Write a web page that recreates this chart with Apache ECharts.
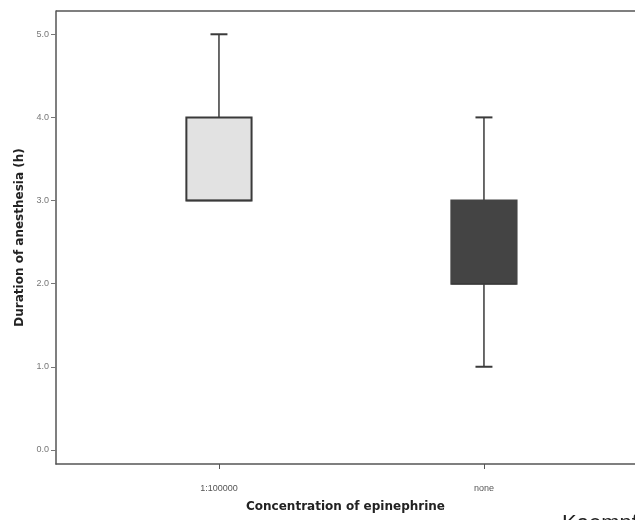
<!DOCTYPE html>
<html>
<head>
<meta charset="utf-8">
<script src="https://cdn.jsdelivr.net/npm/echarts@6/dist/echarts.min.js"></script>
<style>html,body{margin:0;padding:0;background:#fff;}#c{width:635px;height:520px;}</style>
</head>
<body>
<div id="c"></div>
<script>
const categories = ["1:100000", "none"];
// [min, Q1, median, Q3, max]
const boxValues = [
  [3.0, 3.0, 3.0, 4.0, 5.0],
  [1.0, 2.0, 2.0, 3.0, 4.0]
];
const boxColors = ["#e2e2e2", "#444444"];
const yTicks = [0, 1, 2, 3, 4, 5];

const chart = echarts.init(document.getElementById('c'));
const data = boxValues.map((v, i) => [i].concat(v));

function renderItem(params, api) {
  const i = api.value(0);
  const mn = api.value(1), q1 = api.value(2), md = api.value(3), q3 = api.value(4), mx = api.value(5);
  const pMin = api.coord([i, mn]), pQ1 = api.coord([i, q1]), pMd = api.coord([i, md]);
  const pQ3 = api.coord([i, q3]), pMax = api.coord([i, mx]);
  const unit = api.size([1, 0])[0];
  const half = unit * 0.123;
  const cap = unit * 0.032;
  const x = pQ1[0];
  const stroke = '#3a3a3a';
  const children = [];
  if (mx > q3) {
    children.push({type:'line', shape:{x1:x, y1:pQ3[1], x2:x, y2:pMax[1]}, style:{stroke, lineWidth:1.5}});
    children.push({type:'line', shape:{x1:x-cap, y1:pMax[1], x2:x+cap, y2:pMax[1]}, style:{stroke, lineWidth:2}});
  }
  if (mn < q1) {
    children.push({type:'line', shape:{x1:x, y1:pQ1[1], x2:x, y2:pMin[1]}, style:{stroke, lineWidth:1.5}});
    children.push({type:'line', shape:{x1:x-cap, y1:pMin[1], x2:x+cap, y2:pMin[1]}, style:{stroke, lineWidth:2}});
  }
  children.push({type:'rect', shape:{x:x-half, y:pQ3[1], width:2*half, height:pQ1[1]-pQ3[1]},
    style:{fill: boxColors[i], stroke: i === 0 ? '#3a3a3a' : '#444444', lineWidth: 2}});
  children.push({type:'line', shape:{x1:x-half, y1:pMd[1], x2:x+half, y2:pMd[1]}, style:{stroke, lineWidth:1.5}});
  return {type:'group', children};
}

chart.setOption({
  animation: false,
  backgroundColor: '#ffffff',
  grid: {left: 56, right: 0, top: 11, bottom: 56},
  xAxis: {
    type: 'value', min: -0.615, max: 1.57,
    splitLine: {show: false},
    axisLine: {show: true, onZero: false, lineStyle: {color: '#555', width: 1.5}},
    axisTick: {show: true, customValues: [0, 1], length: 5, lineStyle: {color: '#555'}},
    axisLabel: {customValues: [0, 1], formatter: v => categories[Math.round(v)] || '', color: '#555', fontSize: 9, fontFamily: 'Liberation Sans', margin: 20},
    name: 'Concentration of epinephrine', nameLocation: 'middle', nameGap: 37,
    nameTextStyle: {fontWeight: 'bold', fontSize: 12, color: '#222', fontFamily: 'DejaVu Sans'}
  },
  yAxis: {
    type: 'value', min: -0.17, max: 5.28,
    splitLine: {show: false},
    axisLine: {show: true, onZero: false, lineStyle: {color: '#555', width: 1.5}},
    axisTick: {show: true, customValues: yTicks, length: 5, lineStyle: {color: '#777'}},
    axisLabel: {customValues: yTicks, formatter: v => v.toFixed(1), color: '#777', fontSize: 9, fontFamily: 'Liberation Sans', margin: 7},
    name: 'Duration of anesthesia (h)', nameLocation: 'middle', nameGap: 28, nameRotate: 90,
    nameTextStyle: {fontWeight: 'bold', fontSize: 12, color: '#222', fontFamily: 'DejaVu Sans'}
  },
  graphic: [
    {type: 'line', shape: {x1: 56, y1: 11, x2: 640, y2: 11}, style: {stroke: '#555', lineWidth: 1.5}},
    {type: 'text', left: 562, top: 513, style: {text: 'Kaempf', font: '22px "Liberation Sans"', fill: '#222'}}
  ],
  series: [{
    type: 'custom',
    renderItem: renderItem,
    encode: {x: 0, y: [1, 2, 3, 4, 5]},
    data: data
  }]
});
</script>
</body>
</html>
